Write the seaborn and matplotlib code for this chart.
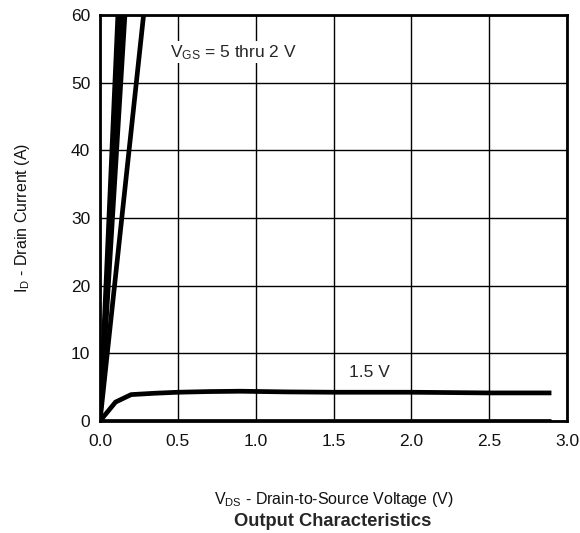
import numpy as np
import pandas as pd
import matplotlib
matplotlib.use('Agg')
import matplotlib.pyplot as plt
import seaborn as sns

# steep curves, VGS = 5 thru 2 V (straight lines from origin out of the top)
vds_5v = [0.0, 0.115]
vds_4v = [0.0, 0.135]
vds_3v = [0.0, 0.16]
vds_2v = [0.0, 0.28]
id_steep = [0.0, 60.0]

# 1.5 V curve
vds_15 = [0.0, 0.1, 0.2, 0.35, 0.5, 0.7, 0.9, 1.2, 1.5, 2.0, 2.5, 2.9]
id_15 = [0.0, 2.8, 3.9, 4.1, 4.25, 4.35, 4.4, 4.3, 4.25, 4.25, 4.15, 4.15]

# 1 V curve (sits on zero)
vds_1 = [0.0, 2.9]
id_1 = [0.0, 0.0]

curves = {
    '5 V': (vds_5v, id_steep),
    '4 V': (vds_4v, id_steep),
    '3 V': (vds_3v, id_steep),
    '2 V': (vds_2v, id_steep),
    '1.5 V': (vds_15, id_15),
    '1 V': (vds_1, id_1),
}

sns.set_style('white')
plt.rcParams['font.family'] = ['Liberation Sans', 'DejaVu Sans']
plt.rcParams['mathtext.fontset'] = 'custom'
plt.rcParams['mathtext.rm'] = 'Liberation Sans'
plt.rcParams['mathtext.it'] = 'Liberation Sans'

fig = plt.figure(figsize=(5.8, 5.33), dpi=100)
ax = fig.add_axes([100 / 580, 112 / 533, 467 / 580, 406 / 533])

for name, (x, y) in curves.items():
    df = pd.DataFrame({'VDS': x, 'ID': y})
    sns.lineplot(data=df, x='VDS', y='ID', ax=ax, color='black', linewidth=3.4,
                 sort=False, solid_capstyle='butt')

ax.set_xlim(0, 3.0)
ax.set_ylim(0, 60)
ax.set_xticks(np.arange(0, 3.01, 0.5))
ax.set_xticklabels(['0.0', '0.5', '1.0', '1.5', '2.0', '2.5', '3.0'])
ax.set_yticks(np.arange(0, 61, 10))
ax.grid(True, color='black', linewidth=1.0)
ax.set_axisbelow(True)
for s in ax.spines.values():
    s.set_color('black')
    s.set_linewidth(2.0)
ax.tick_params(axis='both', length=0, labelsize=12.5, colors='#111111')
ax.tick_params(axis='x', pad=9)
ax.tick_params(axis='y', pad=7)

ax.set_xlabel(r'V$_{\mathrm{DS}}$ - Drain-to-Source Voltage (V)', fontsize=11.5, labelpad=30, color='#111111')
ax.set_ylabel(r'I$_{\mathrm{D}}$ - Drain Current (A)', fontsize=11.5, labelpad=28, color='#111111')

ax.text(0.45, 54.5, r'V$_{\mathrm{GS}}$ = 5 thru 2 V', fontsize=12.5, va='center', ha='left',
        bbox=dict(facecolor='white', edgecolor='none', pad=1))
ax.text(1.73, 7.2, '1.5 V', fontsize=12.5, va='center', ha='center',
        bbox=dict(facecolor='white', edgecolor='none', pad=1))

fig.text(333 / 580, 1 - 521 / 533, 'Output Characteristics', fontsize=13.2, fontweight='bold',
         ha='center', va='center')

fig.savefig('out.png', dpi=100)
